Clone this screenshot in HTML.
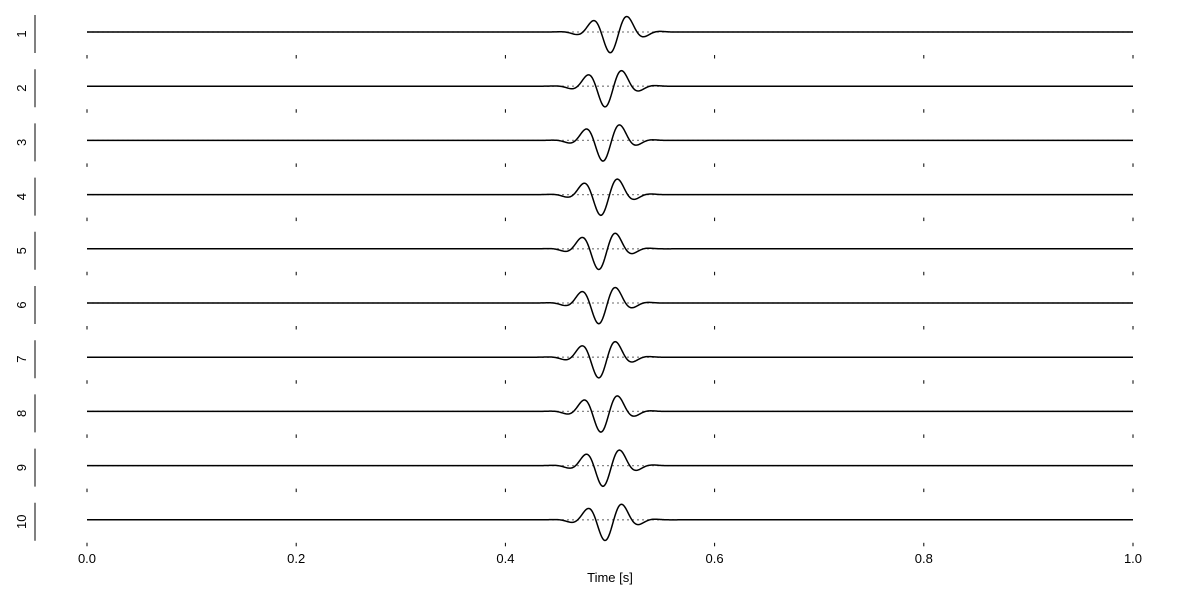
<!DOCTYPE html>
<html><head><meta charset="utf-8"><style>
body{margin:0;background:#fff}
svg{font-family:"Liberation Sans","DejaVu Sans",sans-serif;display:block}
</style></head><body>
<svg id="chart" width="1200" height="600" viewBox="0 0 1200 600"></svg>
<script>
const traceLabels=["1","2","3","4","5","6","7","8","9","10"];
const traceCenters=[0.500,0.495,0.493,0.491,0.489,0.489,0.489,0.491,0.493,0.495];
const traceAmps=[1,1,1,1,1,1,1,1,1,1];
const xTicks=[0.0,0.2,0.4,0.6,0.8,1.0];
const xTickLabels=["0.0","0.2","0.4","0.6","0.8","1.0"];
const NS="http://www.w3.org/2000/svg";
const svg=document.getElementById('chart');
const x0=87,x1=1133;
const X=t=>x0+(x1-x0)*t;
const rowTop=15,rowStep=54.2,rowH=38;
const ampPx=21,sigma=0.0175,freq=29,envShift=0.003;
function el(tag,attrs,parent){const e=document.createElementNS(NS,tag);for(const k in attrs)e.setAttribute(k,attrs[k]);(parent||svg).appendChild(e);return e;}
traceLabels.forEach((lab,i)=>{
  const top=rowTop+rowStep*i, mid=top+17;
  const g=el('g',{});
  
  
  const sp=el('line',{x1:35,x2:35,y1:top,y2:top+rowH,stroke:'#000','stroke-width':1},g);
  
  
  const tl=el('text',{x:0,y:0,transform:`translate(26,${top+rowH/2}) rotate(-90)`,'text-anchor':'middle','font-size':13},g);
  tl.textContent=lab;
  
  
  const bl=el('line',{x1:X(0),x2:X(1),y1:mid,y2:mid,stroke:'#888','stroke-width':1.3,'stroke-dasharray':'2,3'},g);
  
  
  let d='';
  const c=traceCenters[i],a=traceAmps[i];
  for(let k=0;k<=1000;k++){
    const t=k/1000;const dt=t-c;const de=dt-envShift;
    const v=a*Math.cos(2*Math.PI*freq*dt)*Math.exp(-de*de/(2*sigma*sigma));
    d+=(k?'L':'M')+X(t).toFixed(2)+','+(mid+ampPx*v).toFixed(2);
  }
  const p=el('path',{d:d,fill:'none',stroke:'#000','stroke-width':1.5},g);
  
  
  xTicks.forEach(tv=>{
    const tk=el('line',{x1:X(tv),x2:X(tv),y1:top+rowH+2,y2:top+rowH+5.5,stroke:'#000','stroke-width':1},g);
    
    
  });
});
xTicks.forEach((tv,j)=>{
  const t=el('text',{x:X(tv),y:563,'text-anchor':'middle','font-size':13});
  t.textContent=xTickLabels[j];
  
  
});
const xt=el('text',{x:610,y:582,'text-anchor':'middle','font-size':13});
xt.textContent='Time [s]';


</script>
</body></html>
